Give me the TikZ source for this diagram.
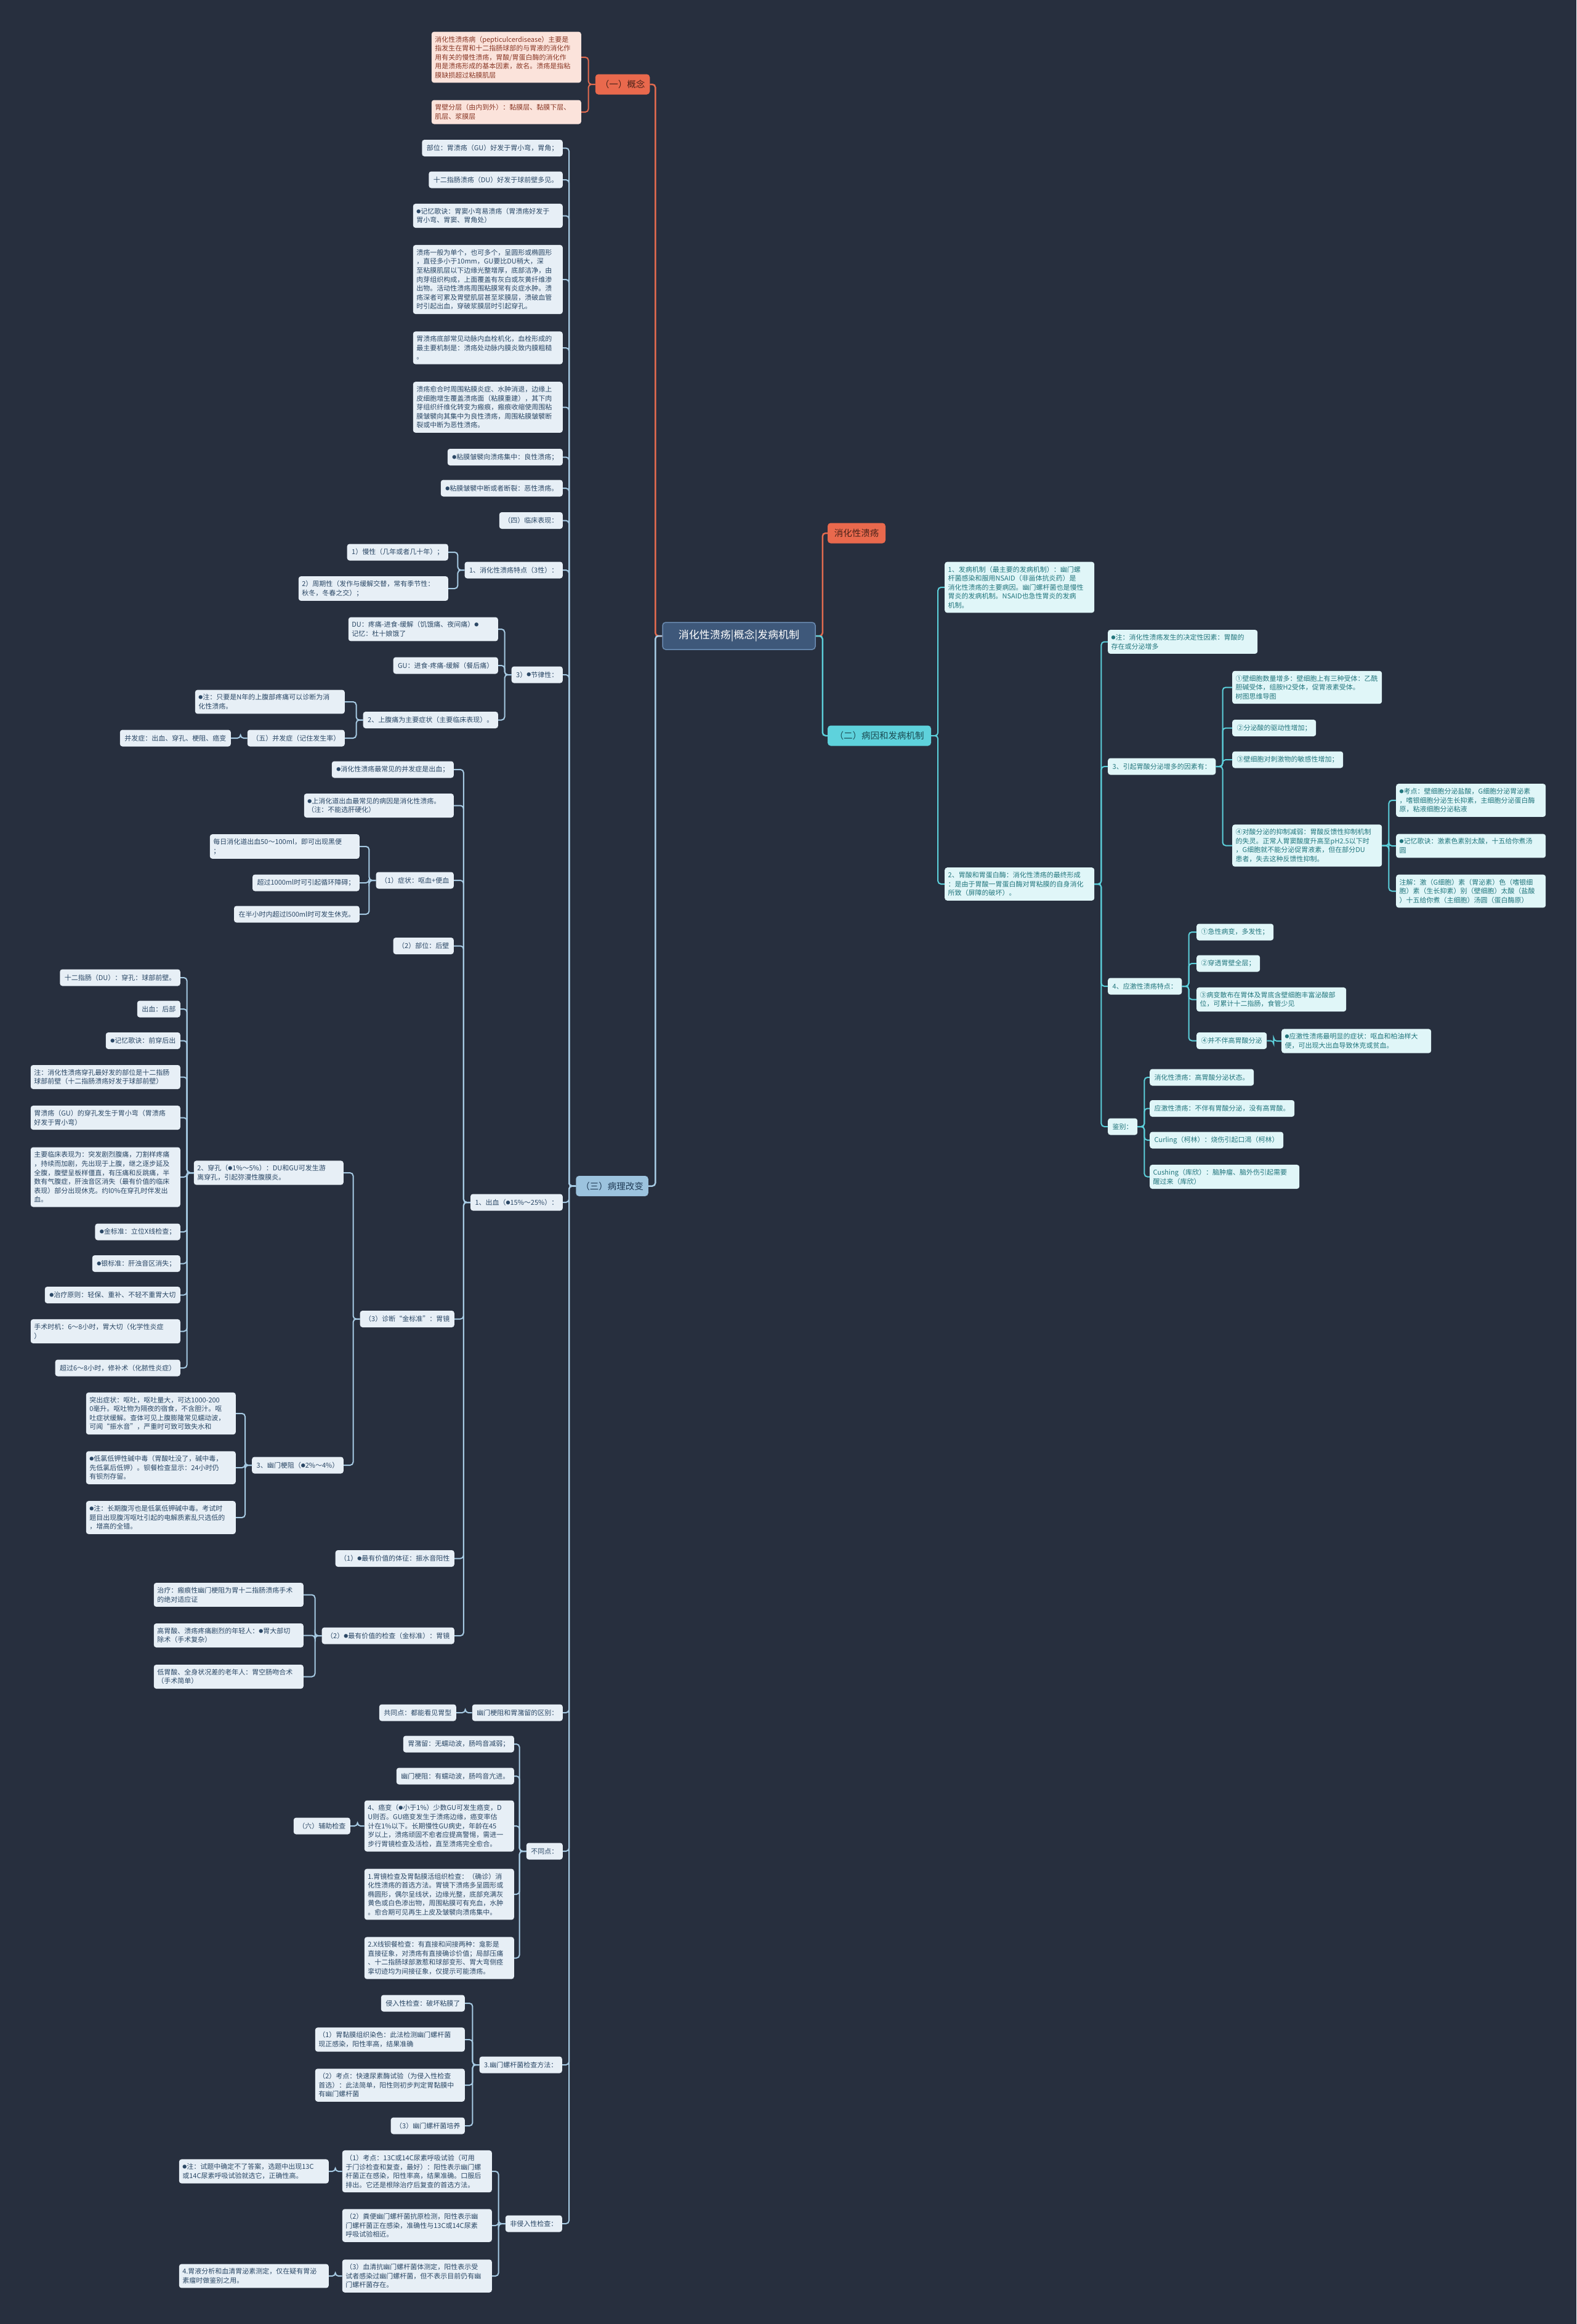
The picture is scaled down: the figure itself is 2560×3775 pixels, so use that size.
\documentclass[tikz,border=0pt]{standalone}
\usepackage{fontspec}
\newfontfamily\cjk{Noto Sans CJK SC}
\definecolor{bgc}{HTML}{272F3E}
\definecolor{blfill}{HTML}{E7EFF6}
\definecolor{bltext}{HTML}{2B4866}
\definecolor{blline}{HTML}{A6CAE3}
\definecolor{cyfill}{HTML}{E0F6F8}
\definecolor{cytext}{HTML}{22767D}
\definecolor{cyline}{HTML}{5CD0DB}
\definecolor{pkfill}{HTML}{FBE3DB}
\definecolor{pktext}{HTML}{8A3826}
\definecolor{pkline}{HTML}{E36B4F}
\definecolor{rootfill}{HTML}{3E587A}
\definecolor{rootline}{HTML}{6A8BB2}
\definecolor{redfill}{HTML}{E9694D}
\definecolor{redtext}{HTML}{4A2219}
\definecolor{erfill}{HTML}{5ED2DC}
\definecolor{ertext}{HTML}{1A4A52}
\definecolor{sanfill}{HTML}{9CC3DE}
\definecolor{santext}{HTML}{1F3A54}
\newcommand\leaffont{\cjk\fontsize{11}{14.6}\selectfont}
\newcommand\dotb{\raisebox{1.2pt}{\fontsize{7}{7}\selectfont ●}}
\begin{document}
\begin{tikzpicture}[x=1pt,y=-1pt,
	leaf/.style={rectangle,rounded corners=4pt,fill=blfill,text=bltext,font=\leaffont,inner xsep=7.5pt,inner ysep=7pt,minimum height=27pt,align=left},
	wide/.style={leaf,text width=232pt,inner xsep=5.5pt},
	cyl/.style={fill=cyfill,text=cytext},
	pkl/.style={fill=pkfill,text=pktext},
	rootn/.style={rectangle,rounded corners=5pt,fill=rootfill,draw=rootline,line width=1.5pt,text=white,font=\cjk\fontsize{17}{20}\selectfont,minimum width=248pt,minimum height=44pt},
	brn/.style={rectangle,rounded corners=5pt,font=\cjk\fontsize{14.5}{17}\selectfont,minimum height=33pt,inner xsep=8pt},
	lk/.style={draw=blline,line width=2pt,rounded corners=5pt,to path={(\tikztotarget.west) -- ++(-11,0) |- (\tikztostart.east)}},
	rk/.style={draw=cyline,line width=2pt,rounded corners=5pt,to path={(\tikztotarget.east) -- ++(11,0) |- (\tikztostart.west)}}]
	\fill[bgc] (0,0) rectangle (2560,3775);
	\useasboundingbox (0,0) rectangle (2560,3775);

	\node[rootn] (root) at (1200,1033) {消化性溃疡|概念|发病机制};
	\node[brn,fill=redfill,text=redtext] (gn) at (1011,137) {（一）概念}
		edge[lk,draw=pkline,line width=2.5pt] (root);
	\node[brn,fill=redfill,text=redtext,minimum width=94pt] (xh) at (1391,866) {消化性溃疡}
		edge[rk,draw=pkline,line width=2.5pt] (root);
	\node[brn,fill=erfill,text=ertext,minimum width=168pt] (er) at (1428,1195) {（二）病因和发病机制}
		edge[rk,line width=2.5pt] (root);
	\node[brn,fill=sanfill,text=santext] (san) at (994,1926.5) {（三）病理改变}
		edge[lk,line width=2.5pt] (root);

	\node[wide,pkl,anchor=east] (g1) at (944,93) {消化性溃疡病（pepticulcerdisease）主要是\\指发生在胃和十二指肠球部的与胃液的消化作\\用有关的慢性溃疡，胃酸/胃蛋白酶的消化作\\用是溃疡形成的基本因素，故名。溃疡是指粘\\膜缺损超过粘膜肌层}
		edge[lk,draw=pkline] (gn);
	\node[wide,pkl,anchor=east] (g2) at (944,182) {胃壁分层（由内到外）：黏膜层、黏膜下层、\\肌层、浆膜层}
		edge[lk,draw=pkline] (gn);

	\node[wide,cyl,anchor=west] (e1) at (1534,954) {1、发病机制（最主要的发病机制）：幽门螺\\杆菌感染和服用NSAID（非甾体抗炎药）是\\消化性溃疡的主要病因。幽门螺杆菌也是慢性\\胃炎的发病机制。NSAID也急性胃炎的发病\\机制。}
		edge[rk] (er);
	\node[wide,cyl,anchor=west] (e2) at (1534,1436) {2、胃酸和胃蛋白酶：消化性溃疡的最终形成\\：是由于胃酸一胃蛋白酶对胃粘膜的自身消化\\所致（屏障的破坏）。}
		edge[rk] (er);
	\node[wide,cyl,anchor=west] (e21) at (1799,1042.5) {\dotb{}注：消化性溃疡发生的决定性因素：胃酸的\\存在或分泌增多}
		edge[rk] (e2);
	\node[leaf,cyl,anchor=west] (e22) at (1799,1245) {3、引起胃酸分泌增多的因素有：}
		edge[rk] (e2);
	\node[wide,cyl,anchor=west] (f1) at (2001,1116.5) {①壁细胞数量增多：壁细胞上有三种受体：乙酰\\胆碱受体，组胺H2受体，促胃液素受体。\\树图思维导图}
		edge[rk] (e22);
	\node[leaf,cyl,anchor=west] (f2) at (2001,1182.5) {②分泌酸的驱动性增加；}
		edge[rk] (e22);
	\node[leaf,cyl,anchor=west] (f3) at (2001,1234) {③壁细胞对刺激物的敏感性增加；}
		edge[rk] (e22);
	\node[wide,cyl,anchor=west] (f4) at (2001,1373.5) {④对酸分泌的抑制减弱：胃酸反馈性抑制机制\\的失灵。正常人胃窦酸度升高至pH2.5以下时\\，G细胞就不能分泌促胃液素，但在部分DU\\患者，失去这种反馈性抑制。}
		edge[rk] (e22);
	\node[wide,cyl,anchor=west] (f41) at (2267,1300) {\dotb{}考点：壁细胞分泌盐酸，G细胞分泌胃泌素\\，嗜银细胞分泌生长抑素，主细胞分泌蛋白酶\\原，粘液细胞分泌粘液}
		edge[rk] (f4);
	\node[wide,cyl,anchor=west] (f42) at (2267,1374) {\dotb{}记忆歌诀：激素色素别太酸，十五给你煮汤\\圆}
		edge[rk] (f4);
	\node[wide,cyl,anchor=west] (f43) at (2267,1447.5) {注解：激（G细胞）素（胃泌素）色（嗜银细\\胞）素（生长抑素）别（壁细胞）太酸（盐酸\\）十五给你煮（主细胞）汤圆（蛋白酶原）}
		edge[rk] (f4);
	\node[leaf,cyl,anchor=west] (e23) at (1799,1602) {4、应激性溃疡特点：}
		edge[rk] (e2);
	\node[leaf,cyl,anchor=west] (k1) at (1943,1514) {①急性病变，多发性；}
		edge[rk] (e23);
	\node[leaf,cyl,anchor=west] (k2) at (1943,1565) {②穿透胃壁全层；}
		edge[rk] (e23);
	\node[wide,cyl,anchor=west] (k3) at (1943,1623.5) {③病变散布在胃体及胃底含壁细胞丰富泌酸部\\位，可累计十二指肠，食管少见}
		edge[rk] (e23);
	\node[leaf,cyl,anchor=west] (k4) at (1943,1690.5) {④并不伴高胃酸分泌}
		edge[rk] (e23);
	\node[wide,cyl,anchor=west] (k41) at (2081,1691) {\dotb{}应激性溃疡最明显的症状：呕血和柏油样大\\便，可出现大出血导致休克或贫血。}
		edge[rk] (k4);
	\node[leaf,cyl,anchor=west] (e24) at (1799,1830) {鉴别：}
		edge[rk] (e2);
	\node[leaf,cyl,anchor=west] (j1) at (1867,1750) {消化性溃疡：高胃酸分泌状态。}
		edge[rk] (e24);
	\node[leaf,cyl,anchor=west] (j2) at (1867,1800.5) {应激性溃疡：不伴有胃酸分泌，没有高胃酸。}
		edge[rk] (e24);
	\node[leaf,cyl,anchor=west] (j3) at (1867,1852) {Curling（柯林）：烧伤引起口渴（柯林）}
		edge[rk] (e24);
	\node[wide,cyl,anchor=west] (j4) at (1867,1911.5) {Cushing（库欣）：脑肿瘤、脑外伤引起需要\\醒过来（库欣）}
		edge[rk] (e24);

	\node[leaf,anchor=east] (s1) at (914,240.5) {部位：胃溃疡（GU）好发于胃小弯，胃角；}
		edge[lk] (san);
	\node[leaf,anchor=east] (s2) at (914,292) {十二指肠溃疡（DU）好发于球前壁多见。}
		edge[lk] (san);
	\node[wide,anchor=east] (s3) at (914,350.5) {\dotb{}记忆歌诀：胃窦小弯易溃疡（胃溃疡好发于\\胃小弯、胃窦、胃角处）}
		edge[lk] (san);
	\node[wide,anchor=east] (s4) at (914,454) {溃疡一般为单个，也可多个，呈圆形或椭圆形\\，直径多小于10mm，GU要比DU稍大，深\\至粘膜肌层以下边缘光整增厚，底部洁净，由\\肉芽组织构成，上面覆盖有灰白或灰黄纤维渗\\出物。活动性溃疡周围粘膜常有炎症水肿。溃\\疡深者可累及胃壁肌层甚至浆膜层，溃破血管\\时引起出血，穿破浆膜层时引起穿孔。}
		edge[lk] (san);
	\node[wide,anchor=east] (s5) at (914,565) {胃溃疡底部常见动脉内血栓机化，血栓形成的\\最主要机制是：溃疡处动脉内膜炎致内膜粗糙\\。}
		edge[lk] (san);
	\node[wide,anchor=east] (s6) at (914,661.5) {溃疡愈合时周围粘膜炎症、水肿消退，边缘上\\皮细胞增生覆盖溃疡面（粘膜重建），其下肉\\芽组织纤维化转变为瘢痕，瘢痕收缩使周围粘\\膜皱襞向其集中为良性溃疡，周围粘膜皱襞断\\裂或中断为恶性溃疡。}
		edge[lk] (san);
	\node[leaf,anchor=east] (s7) at (914,742.5) {\dotb{}粘膜皱襞向溃疡集中：良性溃疡；}
		edge[lk] (san);
	\node[leaf,anchor=east] (s8) at (914,793) {\dotb{}粘膜皱襞中断或者断裂：恶性溃疡。}
		edge[lk] (san);
	\node[leaf,anchor=east] (s9) at (914,845.5) {（四）临床表现：}
		edge[lk] (san);
	\node[leaf,anchor=east] (s10) at (914,926) {1、消化性溃疡特点（3性）：}
		edge[lk] (san);
	\node[leaf,anchor=east] (s10a) at (728,897) {1）慢性（几年或者几十年）；}
		edge[lk] (s10);
	\node[wide,anchor=east] (s10b) at (728,956) {2）周期性（发作与缓解交替，常有季节性：\\秋冬，冬春之交）；}
		edge[lk] (s10);
	\node[leaf,anchor=east] (s11) at (914,1096) {3）\dotb{}节律性：}
		edge[lk] (san);
	\node[wide,anchor=east] (s11a) at (809,1022) {DU：疼痛-进食-缓解（饥饿痛、夜间痛）\dotb\\记忆：杜十娘饿了}
		edge[lk] (s11);
	\node[leaf,anchor=east] (s11b) at (809,1081) {GU：进食-疼痛-缓解（餐后痛）}
		edge[lk] (s11);
	\node[leaf,anchor=east] (s11c) at (809,1169.5) {2、上腹痛为主要症状（主要临床表现）。}
		edge[lk] (s11);
	\node[wide,anchor=east] (s11d) at (560,1140) {\dotb{}注：只要是N年的上腹部疼痛可以诊断为消\\化性溃疡。}
		edge[lk] (s11c);
	\node[leaf,anchor=east] (s11e) at (560,1199) {（五）并发症（记住发生率）}
		edge[lk] (s11c);
	\node[leaf,anchor=east] (s11f) at (375,1199) {并发症：出血、穿孔、梗阻、癌变}
		edge[lk] (s11e);

	\node[leaf,anchor=east] (s12) at (914,1953) {1、出血（\dotb{}15\%～25\%）：}
		edge[lk] (san);
	\node[leaf,anchor=east] (b1) at (737,1250) {\dotb{}消化性溃疡最常见的并发症是出血；}
		edge[lk] (s12);
	\node[wide,anchor=east] (b2) at (737,1308.5) {\dotb{}上消化道出血最常见的病因是消化性溃疡。\\（注：不能选肝硬化）}
		edge[lk] (s12);
	\node[leaf,anchor=east] (b3) at (737,1430) {（1）症状：呕血+便血}
		edge[lk] (s12);
	\node[wide,anchor=east] (b3a) at (584,1375) {每日消化道出血50～100ml，即可出现黑便\\；}
		edge[lk] (b3);
	\node[leaf,anchor=east] (b3b) at (584,1434) {超过1000ml时可引起循环障碍；}
		edge[lk] (b3);
	\node[leaf,anchor=east] (b3c) at (584,1485) {在半小时内超过l500ml时可发生休克。}
		edge[lk] (b3);
	\node[leaf,anchor=east] (b4) at (737,1536.5) {（2）部位：后壁}
		edge[lk] (s12);
	\node[leaf,anchor=east] (b5) at (738,2142.5) {（3）诊断“金标准”：胃镜}
		edge[lk] (s12);
	\node[wide,anchor=east] (p0) at (558,1905) {2、穿孔（\dotb{}1\%～5\%）：DU和GU可发生游\\离穿孔，引起弥漫性腹膜炎。}
		edge[lk] (b5);
	\node[leaf,anchor=east] (p1) at (293,1588) {十二指肠（DU）：穿孔：球部前壁。}
		edge[lk] (p0);
	\node[leaf,anchor=east] (p2) at (293,1639) {出血：后部}
		edge[lk] (p0);
	\node[leaf,anchor=east] (p3) at (293,1690.5) {\dotb{}记忆歌诀：前穿后出}
		edge[lk] (p0);
	\node[wide,anchor=east] (p4) at (293,1749.5) {注：消化性溃疡穿孔最好发的部位是十二指肠\\球部前壁（十二指肠溃疡好发于球部前壁）}
		edge[lk] (p0);
	\node[wide,anchor=east] (p5) at (293,1815.5) {胃溃疡（GU）的穿孔发生于胃小弯（胃溃疡\\好发于胃小弯）}
		edge[lk] (p0);
	\node[wide,anchor=east] (p6) at (293,1912) {主要临床表现为：突发剧烈腹痛，刀割样疼痛\\，持续而加剧，先出现于上腹，继之逐步延及\\全腹，腹壁呈板样僵直，有压痛和反跳痛，半\\数有气腹症，肝浊音区消失（最有价值的临床\\表现）部分出现休克。约l0\%在穿孔时伴发出\\血。}
		edge[lk] (p0);
	\node[leaf,anchor=east] (p7) at (293,2001) {\dotb{}金标准：立位X线检查；}
		edge[lk] (p0);
	\node[leaf,anchor=east] (p8) at (293,2052.5) {\dotb{}银标准：肝浊音区消失；}
		edge[lk] (p0);
	\node[leaf,anchor=east] (p9) at (293,2103.5) {\dotb{}治疗原则：轻保、重补、不轻不重胃大切}
		edge[lk] (p0);
	\node[wide,anchor=east] (p10) at (293,2162.5) {手术时机：6～8小时，胃大切（化学性炎症\\）}
		edge[lk] (p0);
	\node[leaf,anchor=east] (p11) at (293,2222) {超过6～8小时，修补术（化脓性炎症）}
		edge[lk] (p0);
	\node[leaf,anchor=east] (o0) at (558,2380) {3、幽门梗阻（\dotb{}2\%～4\%）}
		edge[lk] (b5);
	\node[wide,anchor=east] (o1) at (383,2296) {突出症状：呕吐，呕吐量大，可达1000-200\\0毫升。呕吐物为隔夜的宿食，不含胆汁。呕\\吐症状缓解。查体可见上腹膨隆常见蠕动波，\\可闻“振水音”，严重时可致可致失水和}
		edge[lk] (o0);
	\node[wide,anchor=east] (o2) at (383,2384) {\dotb{}低氯低钾性碱中毒（胃酸吐没了，碱中毒，\\先低氯后低钾）。钡餐检查显示：24小时仍\\有钡剂存留。}
		edge[lk] (o0);
	\node[wide,anchor=east] (o3) at (383,2465) {\dotb{}注：长期腹泻也是低氯低钾碱中毒。考试时\\题目出现腹泻呕吐引起的电解质紊乱只选低的\\，增高的全错。}
		edge[lk] (o0);
	\node[leaf,anchor=east] (b6) at (738,2531.5) {（1）\dotb{}最有价值的体征：振水音阳性}
		edge[lk] (s12);
	\node[leaf,anchor=east] (b7) at (738,2657) {（2）\dotb{}最有价值的检查（金标准）：胃镜}
		edge[lk] (s12);
	\node[wide,anchor=east] (t1) at (493,2590.5) {治疗：瘢痕性幽门梗阻为胃十二指肠溃疡手术\\的绝对适应证}
		edge[lk] (b7);
	\node[wide,anchor=east] (t2) at (493,2656.5) {高胃酸、溃疡疼痛剧烈的年轻人：\dotb{}胃大部切\\除术（手术复杂）}
		edge[lk] (b7);
	\node[wide,anchor=east] (t3) at (493,2723.5) {低胃酸、全身状况差的老年人：胃空肠吻合术\\（手术简单）}
		edge[lk] (b7);

	\node[leaf,anchor=east] (s13) at (914,2782) {幽门梗阻和胃潴留的区别：}
		edge[lk] (san);
	\node[leaf,anchor=east] (s13a) at (741,2782) {共同点：都能看见胃型}
		edge[lk] (s13);
	\node[leaf,anchor=east] (s14) at (914,3007) {不同点：}
		edge[lk] (san);
	\node[leaf,anchor=east] (n1) at (835,2833) {胃潴留：无蠕动波，肠鸣音减弱；}
		edge[lk] (s14);
	\node[leaf,anchor=east] (n2) at (835,2885) {幽门梗阻：有蠕动波，肠鸣音亢进。}
		edge[lk] (s14);
	\node[wide,anchor=east] (n3) at (835,2966) {4、癌变（\dotb{}小于1\%）少数GU可发生癌变，D\\U则否。GU癌变发生于溃疡边缘，癌变率估\\计在1\%以下。长期慢性GU病史，年龄在45\\岁以上，溃疡顽固不愈者应提高警惕，需进一\\步行胃镜检查及活检，直至溃疡完全愈合。}
		edge[lk] (s14);
	\node[leaf,anchor=east] (n3a) at (569,2966) {（六）辅助检查}
		edge[lk] (n3);
	\node[wide,anchor=east] (n4) at (835,3077) {1.胃镜检查及胃黏膜活组织检查：（确诊）消\\化性溃疡的首选方法。胃镜下溃疡多呈圆形或\\椭圆形，偶尔呈线状，边缘光整，底部充满灰\\黄色或白色渗出物，周围粘膜可有充血，水肿\\。愈合期可见再生上皮及皱襞向溃疡集中。}
		edge[lk] (s14);
	\node[wide,anchor=east] (n5) at (835,3180.5) {2.X线钡餐检查：有直接和间接两种：龛影是\\直接征象，对溃疡有直接确诊价值；局部压痛\\、十二指肠球部激惹和球部变形、胃大弯侧痉\\挛切迹均为间接征象，仅提示可能溃疡。}
		edge[lk] (s14);
	\node[leaf,anchor=east] (s15) at (913,3354) {3.幽门螺杆菌检查方法：}
		edge[lk] (san);
	\node[leaf,anchor=east] (h1) at (755,3254) {侵入性检查：破坏粘膜了}
		edge[lk] (s15);
	\node[wide,anchor=east] (h2) at (755,3313) {（1）胃黏膜组织染色：此法检测幽门螺杆菌\\现正感染，阳性率高，结果准确}
		edge[lk] (s15);
	\node[wide,anchor=east] (h3) at (755,3387) {（2）考点：快速尿素酶试验（为侵入性检查\\首选）：此法简单，阳性则初步判定胃黏膜中\\有幽门螺杆菌}
		edge[lk] (s15);
	\node[leaf,anchor=east] (h4) at (755,3453) {（3）幽门螺杆菌培养}
		edge[lk] (s15);
	\node[leaf,anchor=east] (s16) at (913,3612) {非侵入性检查：}
		edge[lk] (san);
	\node[wide,anchor=east] (i1) at (799,3527) {（1）考点：13C或14C尿素呼吸试验（可用\\于门诊检查和复查，最好）：阳性表示幽门螺\\杆菌正在感染，阳性率高，结果准确。口服后\\排出。它还是根除治疗后复查的首选方法。}
		edge[lk] (s16);
	\node[wide,anchor=east] (i1a) at (534,3527) {\dotb{}注：试题中确定不了答案，选题中出现13C\\或14C尿素呼吸试验就选它，正确性高。}
		edge[lk] (i1);
	\node[wide,anchor=east] (i2) at (799,3615) {（2）粪便幽门螺杆菌抗原检测，阳性表示幽\\门螺杆菌正在感染，准确性与13C或14C尿素\\呼吸试验相近。}
		edge[lk] (s16);
	\node[wide,anchor=east] (i3) at (799,3697) {（3）血清抗幽门螺杆菌体测定，阳性表示受\\试者感染过幽门螺杆菌，但不表示目前仍有幽\\门螺杆菌存在。}
		edge[lk] (s16);
	\node[wide,anchor=east] (i3a) at (534,3697) {4.胃液分析和血清胃泌素测定，仅在疑有胃泌\\素瘤时做鉴别之用。}
		edge[lk] (i3);
\end{tikzpicture}
\end{document}
